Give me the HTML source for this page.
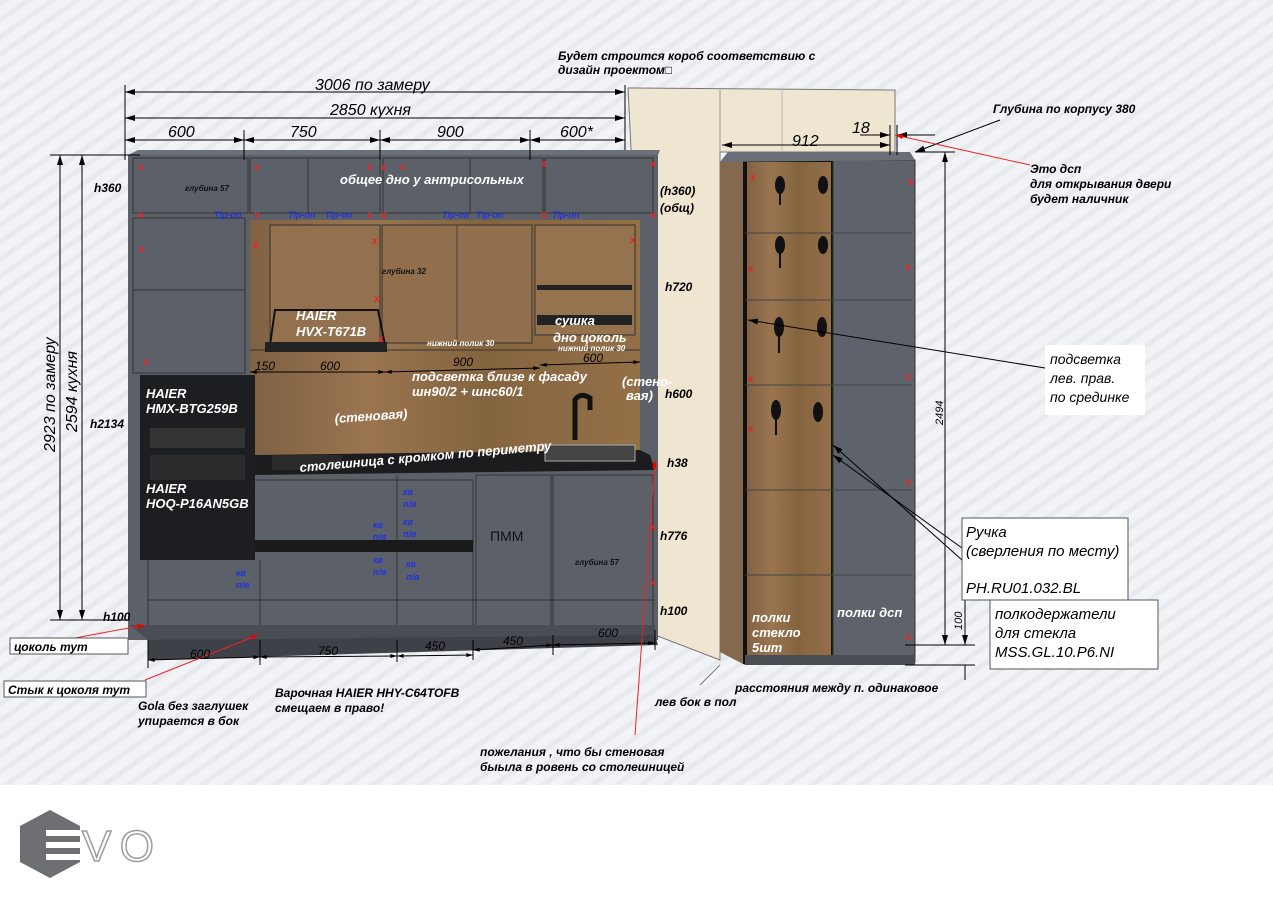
<!DOCTYPE html>
<html><head><meta charset="utf-8"><style>
html,body{margin:0;padding:0;background:#fff}
svg{display:block}
text{font-family:"Liberation Sans","DejaVu Sans",sans-serif}
</style></head><body>
<svg width="1273" height="900" viewBox="0 0 1273 900" xmlns="http://www.w3.org/2000/svg">
<defs>
<pattern id="str" width="14" height="14" patternUnits="userSpaceOnUse" patternTransform="rotate(-35)">
<rect width="14" height="14" fill="#f1f3f6"/><rect width="14" height="5" fill="#e7eaee"/>
</pattern>
<linearGradient id="wood" x1="0" y1="0" x2="1" y2="0">
<stop offset="0" stop-color="#7f6143"/><stop offset="0.3" stop-color="#9a7550"/><stop offset="0.6" stop-color="#84643f"/><stop offset="1" stop-color="#947048"/>
</linearGradient>
<marker id="ar" viewBox="0 0 10 6" refX="10" refY="3" markerWidth="10" markerHeight="6" orient="auto-start-reverse"><path d="M0,0L10,3L0,6z" fill="#000"/></marker>
<marker id="ars" viewBox="0 0 10 6" refX="10" refY="3" markerWidth="7" markerHeight="4" orient="auto-start-reverse"><path d="M0,0L10,3L0,6z" fill="#000"/></marker>
<marker id="arr" viewBox="0 0 10 6" refX="10" refY="3" markerWidth="8" markerHeight="5" orient="auto"><path d="M0,0L10,3L0,6z" fill="#e00"/></marker>
</defs>
<rect width="1273" height="785" fill="url(#str)"/>
<rect y="785" width="1273" height="115" fill="#fff"/>
<!-- logo -->
<polygon points="50,810 80,826 80,862 50,878 20,862 20,826" fill="#6d6f73"/>
<rect x="46" y="830" width="34" height="6" fill="#fff"/><rect x="46" y="842" width="34" height="6" fill="#fff"/><rect x="46" y="854" width="34" height="6" fill="#fff"/>
<text x="82" y="861" font-size="44" fill="none" stroke="#9a9ca0" stroke-width="1.5" textLength="72">VO</text>

<!-- beige box -->
<polygon points="628,88 895,90 895,152 720,152 720,660 655,635 628,88" fill="#efe6d2" stroke="#777" stroke-width="1"/>
<line x1="720" y1="90" x2="720" y2="152" stroke="#999"/><line x1="782" y1="90" x2="782" y2="152" stroke="#bbb"/>

<!-- kitchen body -->
<rect x="128" y="155" width="530" height="485" fill="#5c6068"/>
<polygon points="128,155 138,150 660,150 658,155" fill="#6c7078"/>
<rect x="250" y="220" width="390" height="235" fill="url(#wood)"/>
<rect x="270" y="225" width="110" height="118" fill="#94714e" stroke="#333" stroke-width="1"/>
<rect x="382" y="225" width="150" height="118" fill="#916e4c" stroke="#333" stroke-width="1"/>
<rect x="535" y="225" width="100" height="110" fill="#96734f" stroke="#333" stroke-width="1"/>
<line x1="457" y1="225" x2="457" y2="343" stroke="#444"/>
<line x1="250" y1="350" x2="640" y2="350" stroke="#333"/>
<polygon points="275,310 378,310 385,345 270,345" fill="none" stroke="#111" stroke-width="2"/>
<rect x="265" y="342" width="122" height="10" fill="#222"/>
<rect x="537" y="285" width="95" height="5" fill="#222"/><rect x="537" y="315" width="95" height="10" fill="#222"/>
<g stroke="#333" fill="none" stroke-width="1">
<rect x="133" y="158" width="115" height="55"/><rect x="250" y="158" width="130" height="55"/><rect x="383" y="158" width="160" height="55"/><rect x="545" y="158" width="108" height="55"/>
<line x1="308" y1="158" x2="308" y2="213"/><line x1="470" y1="158" x2="470" y2="213"/>
<rect x="133" y="218" width="112" height="155"/><line x1="133" y1="290" x2="245" y2="290"/>
<rect x="148" y="480" width="325" height="160"/><rect x="476" y="475" width="75" height="165"/><rect x="553" y="475" width="100" height="165"/>
<line x1="260" y1="560" x2="260" y2="640"/><line x1="397" y1="475" x2="397" y2="640"/>
<line x1="148" y1="600" x2="655" y2="600"/>
</g>
<rect x="140" y="375" width="115" height="185" fill="#1d1e21"/>
<rect x="150" y="428" width="95" height="20" fill="#333"/><rect x="150" y="455" width="95" height="25" fill="#2c2c2f"/>
<rect x="255" y="540" width="218" height="12" fill="#1a1a1a"/>
<polygon points="255,455 640,450 650,455 655,470 255,475" fill="#1c1c1e"/>
<rect x="272" y="455" width="70" height="15" fill="#2a2a2a"/>
<rect x="545" y="445" width="90" height="16" fill="#444" stroke="#aaa"/>
<path d="M575,440 V400 Q580,392 590,398 V410" stroke="#111" stroke-width="5" fill="none"/>
<polygon points="130,625 148,640 655,635 655,625" fill="#4a4d54"/>
<polygon points="148,640 655,635 658,645 148,660" fill="#3e4148"/>

<!-- tall cabinet -->
<polygon points="720,162 745,160 745,665 720,652" fill="#84694e"/>
<rect x="745" y="160" width="88" height="502" fill="url(#wood)" stroke="#111" stroke-width="4"/>
<rect x="833" y="160" width="82" height="502" fill="#5e626a" stroke="#333"/>
<polygon points="720,162 728,152 910,152 915,160" fill="#6a6e76"/>
<rect x="745" y="655" width="170" height="10" fill="#4a4d54"/>
<g stroke="#444" fill="none">
<line x1="745" y1="233" x2="912" y2="233"/><line x1="745" y1="300" x2="912" y2="300"/><line x1="745" y1="385" x2="912" y2="385"/><line x1="745" y1="490" x2="912" y2="490"/><line x1="745" y1="575" x2="912" y2="575"/>
</g>
<g fill="#111">
<ellipse cx="780" cy="185" rx="5" ry="9"/><rect x="779" y="190" width="2" height="15"/>
<ellipse cx="823" cy="185" rx="5" ry="9"/><ellipse cx="780" cy="245" rx="5" ry="9"/><rect x="779" y="250" width="2" height="18"/><ellipse cx="823" cy="245" rx="5" ry="9"/>
<ellipse cx="779" cy="327" rx="5" ry="10"/><rect x="778" y="333" width="2" height="20"/><ellipse cx="822" cy="327" rx="5" ry="10"/>
<ellipse cx="776" cy="410" rx="5" ry="10"/><rect x="775" y="415" width="2" height="20"/><ellipse cx="818" cy="412" rx="5" ry="10"/>
</g>

<g fill="#e22" font-size="10" font-weight="bold">
<text x="138" y="170">x</text><text x="254" y="170">x</text><text x="367" y="170">x</text><text x="381" y="170">x</text><text x="400" y="170">x</text><text x="541" y="167">x</text><text x="650" y="167">x</text>
<text x="138" y="218">x</text><text x="254" y="218">x</text><text x="367" y="218">x</text><text x="381" y="218">x</text><text x="541" y="218">x</text><text x="650" y="218">x</text>
<text x="139" y="252">x</text><text x="253" y="248">x</text><text x="372" y="244">x</text><text x="630" y="243">x</text><text x="374" y="302">x</text><text x="378" y="342">x</text><text x="143" y="365">x</text>
<text x="750" y="180">x</text><text x="908" y="185">x</text><text x="748" y="272">x</text><text x="905" y="270">x</text><text x="748" y="382">x</text><text x="905" y="380">x</text><text x="748" y="432">x</text><text x="905" y="485">x</text><text x="905" y="640">x</text><text x="650" y="530">x</text><text x="650" y="586">x</text>
</g>

<g stroke="#000" stroke-width="1" fill="none">
<line x1="125" y1="92" x2="625" y2="92" marker-start="url(#ar)" marker-end="url(#ar)"/>
<line x1="125" y1="118" x2="625" y2="118" marker-start="url(#ar)" marker-end="url(#ar)"/>
<line x1="125" y1="140" x2="244" y2="140" marker-start="url(#ar)" marker-end="url(#ar)"/>
<line x1="244" y1="140" x2="380" y2="140" marker-start="url(#ar)" marker-end="url(#ar)"/>
<line x1="380" y1="140" x2="530" y2="140" marker-start="url(#ar)" marker-end="url(#ar)"/>
<line x1="530" y1="140" x2="625" y2="140" marker-start="url(#ar)" marker-end="url(#ar)"/>
<line x1="125" y1="85" x2="125" y2="160"/><line x1="244" y1="130" x2="244" y2="160"/><line x1="380" y1="130" x2="380" y2="160"/><line x1="530" y1="130" x2="530" y2="160"/><line x1="625" y1="85" x2="625" y2="150"/>
<line x1="722" y1="145" x2="890" y2="145" marker-start="url(#ar)" marker-end="url(#ar)"/>
<line x1="860" y1="135" x2="890" y2="135" marker-end="url(#ar)"/><line x1="935" y1="135" x2="897" y2="135" marker-end="url(#ar)"/>
<line x1="890" y1="125" x2="890" y2="155"/><line x1="897" y1="125" x2="897" y2="155"/>
<line x1="50" y1="155" x2="140" y2="155"/><line x1="50" y1="620" x2="130" y2="620"/>
<line x1="60" y1="155" x2="60" y2="620" marker-start="url(#ar)" marker-end="url(#ar)"/>
<line x1="82" y1="155" x2="82" y2="620" marker-start="url(#ar)" marker-end="url(#ar)"/>
<line x1="915" y1="152" x2="955" y2="152"/><line x1="905" y1="645" x2="975" y2="645"/>
<line x1="945" y1="152" x2="945" y2="645" marker-start="url(#ar)" marker-end="url(#ar)"/>
<line x1="965" y1="600" x2="965" y2="645" marker-end="url(#ar)"/><line x1="965" y1="680" x2="965" y2="665"/>
<line x1="905" y1="665" x2="975" y2="665"/>
<line x1="148" y1="660" x2="260" y2="657" marker-start="url(#ars)" marker-end="url(#ars)"/>
<line x1="260" y1="657" x2="397" y2="656" marker-start="url(#ars)" marker-end="url(#ars)"/>
<line x1="397" y1="656" x2="473" y2="655" marker-start="url(#ars)" marker-end="url(#ars)"/>
<line x1="473" y1="650" x2="553" y2="645" marker-start="url(#ars)" marker-end="url(#ars)"/>
<line x1="553" y1="645" x2="655" y2="643" marker-start="url(#ars)" marker-end="url(#ars)"/>
<line x1="148" y1="640" x2="148" y2="668"/><line x1="260" y1="640" x2="260" y2="665"/><line x1="397" y1="640" x2="397" y2="662"/><line x1="473" y1="640" x2="473" y2="660"/><line x1="553" y1="635" x2="553" y2="655"/><line x1="655" y1="630" x2="655" y2="650"/>
<line x1="250" y1="372" x2="385" y2="372" marker-start="url(#ars)" marker-end="url(#ars)"/>
<line x1="385" y1="372" x2="540" y2="368" marker-start="url(#ars)" marker-end="url(#ars)"/>
<line x1="540" y1="365" x2="640" y2="362" marker-start="url(#ars)" marker-end="url(#ars)"/>
<line x1="1045" y1="368" x2="748" y2="320" marker-end="url(#ar)"/>
<line x1="962" y1="560" x2="833" y2="445" marker-end="url(#ar)"/>
<line x1="962" y1="548" x2="833" y2="455" marker-end="url(#ar)"/>
<line x1="1000" y1="120" x2="915" y2="152" marker-end="url(#ar)"/>
<line x1="720" y1="665" x2="700" y2="685" stroke="#777"/>
</g>
<g stroke="#e22" stroke-width="1" fill="none">
<line x1="1030" y1="165" x2="895" y2="135" marker-end="url(#arr)"/>
<line x1="10" y1="650" x2="145" y2="625" marker-end="url(#arr)"/>
<line x1="145" y1="680" x2="258" y2="635" marker-end="url(#arr)"/>
<line x1="635" y1="735" x2="655" y2="460" marker-end="url(#arr)"/>
</g>

<g font-size="16" fill="#000" font-style="italic">
<text x="315" y="90">3006 по замеру</text>
<text x="330" y="115">2850 кухня</text>
<text x="168" y="137">600</text><text x="290" y="137">750</text><text x="437" y="137">900</text><text x="560" y="137">600*</text>
<text x="792" y="146">912</text><text x="852" y="133">18</text>
<text transform="translate(55,452) rotate(-90)">2923 по замеру</text>
<text transform="translate(77,432) rotate(-90)">2594 кухня</text>
</g>
<g font-size="12" fill="#000" font-style="italic">
<text x="190" y="658">600</text><text x="318" y="655">750</text><text x="425" y="650">450</text><text x="503" y="645">450</text><text x="598" y="637">600</text>
<text x="255" y="370">150</text><text x="320" y="370">600</text><text x="453" y="366">900</text><text x="583" y="362">600</text>
<text transform="translate(943,425) rotate(-90)" font-size="11">2494</text>
<text transform="translate(962,630) rotate(-90)" font-size="11">100</text>
</g>
<g font-size="12" font-weight="bold" font-style="italic" fill="#000">
<text x="558" y="60">Будет строится короб соответствию с</text>
<text x="558" y="74">дизайн проектом□</text>
<text x="993" y="113">Глубина по корпусу 380</text>
<text x="1030" y="173">Это дсп</text><text x="1030" y="188">для открывания двери</text><text x="1030" y="203">будет наличник</text>
<text x="94" y="192">h360</text><text x="660" y="195">(h360)</text><text x="660" y="212">(общ)</text>
<text x="665" y="291">h720</text><text x="665" y="398">h600</text><text x="667" y="467">h38</text><text x="660" y="540">h776</text><text x="660" y="615">h100</text>
<text x="90" y="428">h2134</text><text x="103" y="621">h100</text>
<text x="275" y="697">Варочная HAIER HHY-C64TOFB</text><text x="275" y="712">смещаем в право!</text>
<text x="138" y="710">Gola без заглушек</text><text x="138" y="725">упирается  в бок</text>
<text x="480" y="756">пожелания , что бы стеновая</text><text x="480" y="771">быыла в ровень со столешницей</text>
<text x="655" y="706">лев бок в пол</text>
<text x="735" y="692">расстояния между п. одинаковое</text>
</g>
<g font-size="13" font-weight="bold" font-style="italic" fill="#fff">
<text x="340" y="184">общее дно у антрисольных</text>
<text x="296" y="320">HAIER</text><text x="296" y="336">HVX-T671B</text>
<text x="555" y="325">сушка</text><text x="553" y="342">дно цоколь</text>
<text x="412" y="381">подсветка близе к фасаду</text><text x="412" y="396">шн90/2 + шнс60/1</text>
<text x="622" y="386">(стено-</text><text x="626" y="400">вая)</text>
<text x="335" y="423" transform="rotate(-4 335 423)">(стеновая)</text>
<text x="300" y="472" transform="rotate(-5 300 472)">столешница с кромком по периметру</text>
<text x="146" y="398">HAIER</text><text x="146" y="413">HMX-BTG259B</text>
<text x="146" y="493">HAIER</text><text x="146" y="508">HOQ-P16AN5GB</text>
<text x="752" y="622">полки</text><text x="752" y="637">стекло</text><text x="752" y="652">5шт</text>
<text x="837" y="617">полки дсп</text>
</g>
<g font-size="8" font-weight="bold" font-style="italic" fill="#111">
<text x="185" y="191">глубина 57</text><text x="382" y="274">глубина 32</text><text x="575" y="565">глубина 57</text>
</g>
<g font-size="8" font-weight="bold" font-style="italic" fill="#fff">
<text x="427" y="346">нижний полик 30</text><text x="558" y="351">нижний полик 30</text>
</g>
<g font-size="9" font-weight="bold" font-style="italic" fill="#2233dd">
<text x="214" y="218">Tip-on</text><text x="288" y="218">Tip-on</text><text x="325" y="218">Tip-on</text><text x="442" y="218">Tip-on</text><text x="476" y="218">Tip-on</text><text x="552" y="218">Tip-on</text>
<text x="403" y="495">кв</text><text x="403" y="507">п/в</text><text x="403" y="525">кв</text><text x="403" y="537">п/в</text>
<text x="373" y="528">кв</text><text x="373" y="540">п/в</text><text x="373" y="563">кв</text><text x="373" y="575">п/в</text>
<text x="406" y="567">кв</text><text x="406" y="580">п/в</text><text x="236" y="576">кв</text><text x="236" y="588">п/в</text>
</g>
<text x="490" y="541" font-size="14" fill="#111">ПММ</text>
<rect x="1045" y="345" width="100" height="70" fill="#fff"/>
<g font-size="14" font-style="italic" fill="#000"><text x="1050" y="364">подсветка</text><text x="1050" y="383">лев. прав.</text><text x="1050" y="402">по срединке</text></g>
<rect x="962" y="518" width="166" height="82" fill="#fff" stroke="#555"/>
<g font-size="15" font-style="italic" fill="#000"><text x="966" y="537">Ручка</text><text x="966" y="556">(сверления по месту)</text><text x="966" y="593">PH.RU01.032.BL</text></g>
<rect x="990" y="600" width="168" height="69" fill="#fff" stroke="#555"/>
<g font-size="15" font-style="italic" fill="#000"><text x="995" y="619">полкодержатели</text><text x="995" y="638">для стекла</text><text x="995" y="657">MSS.GL.10.P6.NI</text></g>
<rect x="10" y="638" width="118" height="16" fill="#fff" stroke="#555"/>
<text x="14" y="651" font-size="12" font-weight="bold" font-style="italic">цоколь тут</text>
<rect x="4" y="681" width="142" height="16" fill="#fff" stroke="#555"/>
<text x="8" y="694" font-size="12" font-weight="bold" font-style="italic">Стык к цоколя тут</text>
</svg>
</body></html>
